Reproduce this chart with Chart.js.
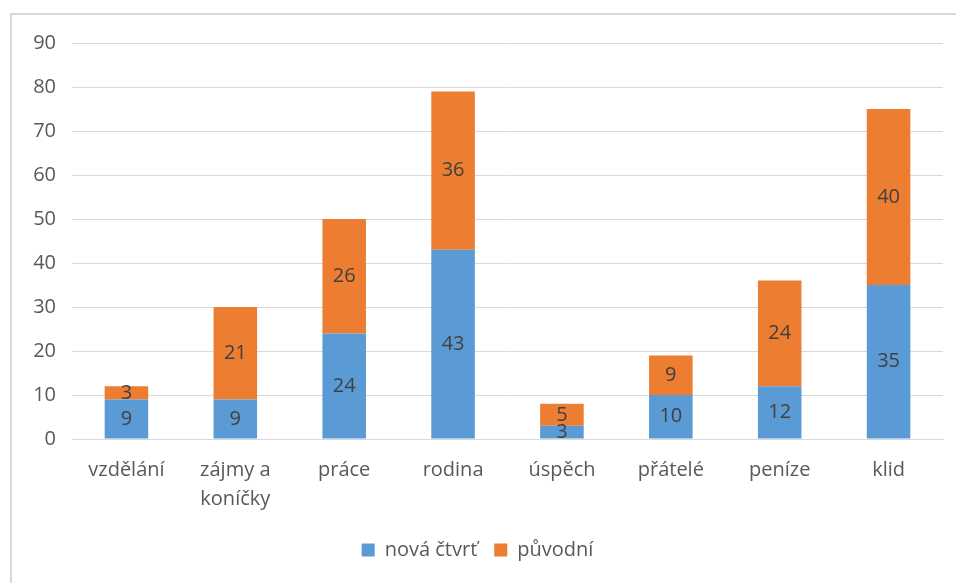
<!DOCTYPE html>
<html lang="cs">
<head>
<meta charset="utf-8">
<title>Hodnoty</title>
<script src="https://cdn.jsdelivr.net/npm/chart.js"></script>
<style>
  body { margin: 0; background: #fff; }
  #frame { position: absolute; left: 10px; top: 13px; width: 946px; height: 570px;
           border-top: 2px solid #d9d9d9; border-left: 2px solid #d9d9d9; box-sizing: border-box; }
</style>
</head>
<body>
<div id="frame">
  <canvas id="myChart"></canvas>
</div>
<script>
  const categories = ['vzdělání', ['zájmy a', 'koníčky'], 'práce', 'rodina', 'úspěch', 'přátelé', 'peníze', 'klid'];
  const novaCtvrt = [9, 9, 24, 43, 3, 10, 12, 35];
  const puvodni = [3, 21, 26, 36, 5, 9, 24, 40];

  const fontFamily = "'Open Sans', 'Liberation Sans', sans-serif";

  // values written in the middle of every segment
  const segmentLabels = {
    id: 'segmentLabels',
    afterDatasetsDraw(chart) {
      const ctx = chart.ctx;
      ctx.save();
      ctx.font = '20px ' + fontFamily;
      ctx.fillStyle = '#404040';
      ctx.textAlign = 'center';
      ctx.textBaseline = 'middle';
      chart.data.datasets.forEach((ds, i) => {
        chart.getDatasetMeta(i).data.forEach((bar, j) => {
          ctx.fillText(ds.data[j], bar.x, (bar.y + bar.base) / 2);
        });
      });
      ctx.restore();
    }
  };

  new Chart(document.getElementById('myChart'), {
    type: 'bar',
    data: {
      labels: categories,
      datasets: [
        { label: 'nová čtvrť', data: novaCtvrt, backgroundColor: '#5b9bd5' },
        { label: 'původní', data: puvodni, backgroundColor: '#ed7d31' }
      ]
    },
    options: {
      responsive: true,
      maintainAspectRatio: false,
      animation: false,
      layout: { padding: { top: 16, right: 13, bottom: 13 } },
      datasets: { bar: { barPercentage: 0.4, categoryPercentage: 1 } },
      scales: {
        x: {
          stacked: true,
          grid: { display: false },
          border: { color: '#d9d9d9', width: 1 },
          ticks: { color: '#595959', font: { family: fontFamily, size: 20, lineHeight: 1.45 }, padding: 9, maxRotation: 0 }
        },
        y: {
          stacked: true,
          min: 0, max: 90,
          ticks: { stepSize: 10, color: '#595959', font: { family: fontFamily, size: 20 }, padding: 16 },
          grid: { color: '#d9d9d9', drawTicks: false },
          border: { display: false },
          afterFit(scale) { scale.width = 60; }
        }
      },
      plugins: {
        legend: {
          position: 'bottom',
          labels: { color: '#595959', font: { family: fontFamily, size: 20 }, boxWidth: 13, boxHeight: 13, padding: 17 }
        },
        tooltip: { enabled: false }
      }
    },
    plugins: [segmentLabels]
  });
</script>
</body>
</html>
